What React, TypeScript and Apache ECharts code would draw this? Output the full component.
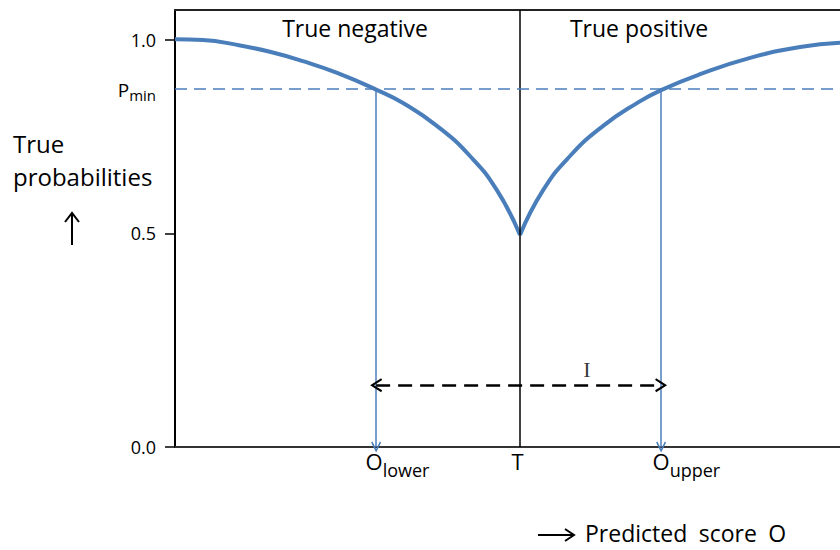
import React, { useEffect, useRef } from 'react';
import * as echarts from 'echarts';

// ---- axis ranges (schematic units: T = 0) ----
const X_MIN = -1;
const X_MAX = 0.9275;
const Y_MIN = 0;
const Y_MAX = 1.0737;

// ---- curve: true probability vs predicted score ----
const LEFT_X = [-1, -0.919, -0.82, -0.725, -0.629, -0.53, -0.414, -0.339, -0.241, -0.145, -0.067, 0];
const LEFT_Y = [1.002, 1.0, 0.988, 0.971, 0.948, 0.919, 0.877, 0.845, 0.789, 0.715, 0.631, 0.521];
const RIGHT_X = [0, 0.067, 0.145, 0.241, 0.339, 0.409, 0.522, 0.667, 0.812, 0.9275];
const RIGHT_Y = [0.521, 0.631, 0.715, 0.789, 0.845, 0.877, 0.916, 0.956, 0.983, 0.993];

// ---- key positions ----
const THRESHOLD_T = 0;
const O_LOWER = -0.417;
const O_UPPER = 0.409;
const P_MIN = 0.877;
const INTERVAL_Y = 0.152;
const INTERVAL_LABEL = 'I';
const INTERVAL_LABEL_POS = [0.194, 0.19];

// ---- tick labels ----
const X_TICK_VALUES = [O_LOWER, THRESHOLD_T, O_UPPER];
const X_TICK_MAIN = ['O', 'T', 'O'];
const X_TICK_SUB = ['lower', '', 'upper'];

const Y_TICK_VALUES = [0, 0.525, 1.0];
const Y_TICK_LABELS = ['0.0', '0.5', '1.0'];
const Y_PMIN_MAIN = 'P';
const Y_PMIN_SUB = 'min';

// ---- texts ----
const REGION_LABELS = ['True negative', 'True positive'];
const Y_TITLE = ['True', 'probabilities'];
const X_TITLE = 'Predicted\u2002score\u2002O';

const FONT = '"Open Sans", "Noto Sans", sans-serif';
const BLUE = '#4a7ebb';
const CHEVRON = 'path://M5 0 L10 9 L8.7 9.8 L5 3.2 L1.3 9.8 L0 9 Z';

function measure(text: string, size: number): number {
  const c = document.createElement('canvas').getContext('2d');
  if (!c) return text.length * size * 0.55;
  c.font = `${size}px "Open Sans"`;
  return c.measureText(text).width;
}

export default function App() {
  const ref = useRef<HTMLDivElement>(null);

  useEffect(() => {
    if (!ref.current) return;
    const chart = echarts.init(ref.current, null, { renderer: 'svg' });

    const subW = X_TICK_SUB.map((s) => (s ? measure(s, 18) : 0));

    const curveStyle = {
      type: 'line',
      smooth: 0.5,
      showSymbol: false,
      lineStyle: { color: BLUE, width: 4 },
      silent: true,
      z: 3,
    };

    const option: any = {
      animation: false,
      grid: { left: 175, right: 0, top: 10, bottom: 103, containLabel: false, outerBoundsMode: 'none' },
      xAxis: [
        {
          type: 'value',
          min: X_MIN,
          max: X_MAX,
          axisLine: { show: true, onZero: false, lineStyle: { color: '#333', width: 2 } },
          axisTick: { show: false },
          minorTick: { show: false },
          splitLine: { show: false },
          axisLabel: {
            customValues: X_TICK_VALUES,
            margin: 0,
            color: '#000',
            formatter: (v: number) => {
              const i = X_TICK_VALUES.findIndex((t) => Math.abs(t - v) < 1e-6);
              if (i < 0) return '';
              const pad = subW[i] > 0 ? `{pad${i}|\u00A0}` : '';
              return `${pad}{o|${X_TICK_MAIN[i]}}{sub|${X_TICK_SUB[i] || '\u00A0'}}`;
            },
            rich: {
              o: { fontSize: 22, lineHeight: 28, fontFamily: FONT, color: '#000' },
              sub: { fontSize: 18, lineHeight: 28, padding: [18, 0, 0, 0], fontFamily: FONT, color: '#000' },
              pad0: { width: subW[0] - 4, lineHeight: 28 },
              pad2: { width: subW[2], lineHeight: 28 },
            },
          },
        },
        {
          type: 'value',
          position: 'top',
          min: X_MIN,
          max: X_MAX,
          axisLine: { show: true, onZero: false, lineStyle: { color: '#222', width: 2 } },
          axisTick: { show: false },
          axisLabel: { show: false },
          splitLine: { show: false },
        },
      ],
      yAxis: {
        type: 'value',
        min: Y_MIN,
        max: Y_MAX,
        axisLine: { show: true, onZero: false, lineStyle: { color: '#000', width: 2 } },
        axisTick: { show: true, customValues: Y_TICK_VALUES, length: 10, lineStyle: { color: '#000', width: 1.5 } },
        splitLine: { show: false },
        axisLabel: {
          customValues: [...Y_TICK_VALUES, P_MIN],
          margin: 19,
          color: '#000',
          fontSize: 18,
          fontFamily: FONT,
          formatter: (v: number) => {
            if (Math.abs(v - P_MIN) < 1e-6) return `{p|${Y_PMIN_MAIN}}{s|${Y_PMIN_SUB}}`;
            const i = Y_TICK_VALUES.findIndex((t) => Math.abs(t - v) < 1e-6);
            return i < 0 ? '' : Y_TICK_LABELS[i];
          },
          rich: {
            p: { fontSize: 19, lineHeight: 22, fontFamily: FONT, color: '#000' },
            s: { fontSize: 15, lineHeight: 22, padding: [10, 0, 0, 0], fontFamily: FONT, color: '#000' },
          },
        },
      },
      series: [
        {
          ...curveStyle,
          data: LEFT_X.map((x, i) => [x, LEFT_Y[i]]),
          markLine: {
            silent: true,
            symbol: ['none', 'none'],
            label: { show: false },
            data: [
              { xAxis: THRESHOLD_T, lineStyle: { color: '#000', width: 1.5, type: 'solid' } },
              { yAxis: P_MIN, lineStyle: { color: BLUE, width: 1.5, type: [12, 7] } },
            ],
          },
        },
        {
          ...curveStyle,
          data: RIGHT_X.map((x, i) => [x, RIGHT_Y[i]]),
          markLine: {
            silent: true,
            symbol: ['none', CHEVRON],
            symbolSize: [10, 11],
            label: { show: false },
            lineStyle: { color: BLUE, width: 1.5, type: 'solid' },
            data: [
              [{ coord: [O_LOWER, P_MIN] }, { coord: [O_LOWER, 0] }],
              [{ coord: [O_UPPER, P_MIN] }, { coord: [O_UPPER, 0] }],
            ],
          },
        },
        {
          type: 'scatter',
          data: [INTERVAL_LABEL_POS],
          symbolSize: 0,
          silent: true,
          label: {
            show: true,
            position: 'inside',
            formatter: INTERVAL_LABEL,
            fontFamily: '"Liberation Serif", "DejaVu Serif", serif',
            fontSize: 22,
            color: '#000',
          },
          markLine: {
            silent: true,
            symbol: [CHEVRON, CHEVRON],
            symbolSize: [14, 12],
            label: { show: false },
            lineStyle: { color: '#000', width: 2.5, type: [14, 8] },
            data: [[{ coord: [O_LOWER, INTERVAL_Y] }, { coord: [O_UPPER, INTERVAL_Y] }]],
          },
        },
      ],
      graphic: [
        { type: 'text', x: 355, y: 28, style: { text: REGION_LABELS[0], font: `23px ${FONT}`, fill: '#000', align: 'center', verticalAlign: 'middle' } },
        { type: 'text', x: 639, y: 28, style: { text: REGION_LABELS[1], font: `23px ${FONT}`, fill: '#000', align: 'center', verticalAlign: 'middle' } },
        { type: 'text', x: 13, y: 143, style: { text: Y_TITLE[0], font: `24px ${FONT}`, fill: '#000', align: 'left', verticalAlign: 'middle' } },
        { type: 'text', x: 13, y: 176, style: { text: Y_TITLE[1], font: `24px ${FONT}`, fill: '#000', align: 'left', verticalAlign: 'middle' } },
        { type: 'line', shape: { x1: 72, y1: 245, x2: 72, y2: 213 }, style: { stroke: '#000', lineWidth: 2 } },
        { type: 'polyline', shape: { points: [[65, 222], [72, 213], [79, 222]] }, style: { stroke: '#000', lineWidth: 2, fill: 'none' } },
        { type: 'line', shape: { x1: 538, y1: 535, x2: 573, y2: 535 }, style: { stroke: '#000', lineWidth: 2 } },
        { type: 'polyline', shape: { points: [[565, 529], [574, 535], [565, 541]] }, style: { stroke: '#000', lineWidth: 2, fill: 'none' } },
        { type: 'text', x: 585, y: 533, style: { text: X_TITLE, font: `23px ${FONT}`, fill: '#000', align: 'left', verticalAlign: 'middle' } },
      ],
    };

    chart.setOption(option);
    return () => chart.dispose();
  }, []);

  return (
    <div
      ref={ref}
      style={{ position: 'fixed', left: 0, top: 0, width: 840, height: 550, background: '#fff' }}
    />
  );
}
